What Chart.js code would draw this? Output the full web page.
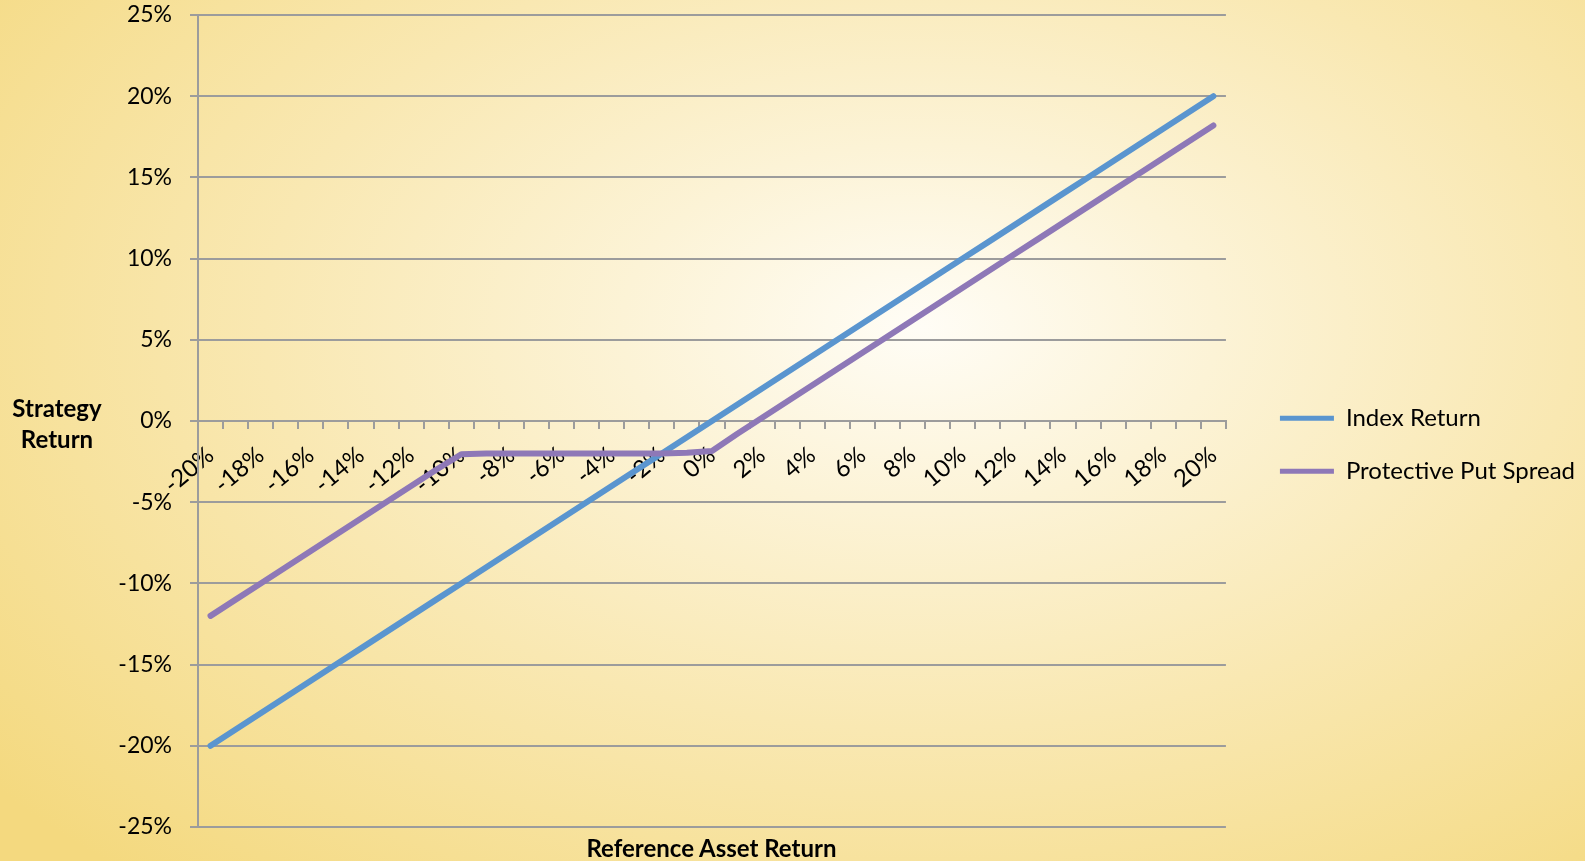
<!DOCTYPE html>
<html>
<head>
<meta charset="utf-8">
<script src="https://cdn.jsdelivr.net/npm/chart.js@4.4.1/dist/chart.umd.min.js"></script>
<style>
  html, body {
    margin: 0;
    padding: 0;
  }
  body {
    width: 1585px;
    height: 861px;
    overflow: hidden;
    background: radial-gradient(ellipse 75% 85% at 58% 38%, #fffdf6 0%, #fcf3d6 25%, #f9e8b2 55%, #f4d97f 100%);
    font-family: Lato, "Open Sans", sans-serif;
  }
  #wrap {
    position: absolute;
    left: 0;
    top: 0;
    width: 1585px;
    height: 861px;
  }
  .axis-title {
    position: absolute;
    font-weight: bold;
    font-size: 24px;
    color: #000;
    text-align: center;
    line-height: 31px;
  }
  #ytitle { left: 0; width: 114px; top: 392px; }
  #xtitle { left: 530px; width: 363px; top: 832px; }
</style>
</head>
<body>
<div id="wrap">
  <canvas id="chart"></canvas>
</div>
<div class="axis-title" id="ytitle">Strategy<br>Return</div>
<div class="axis-title" id="xtitle">Reference Asset Return</div>

<script>
// reference asset return, one category per 1%
const categories = [
  '-20%', '-19%', '-18%', '-17%', '-16%', '-15%', '-14%', '-13%', '-12%', '-11%',
  '-10%', '-9%', '-8%', '-7%', '-6%', '-5%', '-4%', '-3%', '-2%', '-1%',
  '0%', '1%', '2%', '3%', '4%', '5%', '6%', '7%', '8%', '9%',
  '10%', '11%', '12%', '13%', '14%', '15%', '16%', '17%', '18%', '19%', '20%'
];

const indexReturn = [
  -20, -19, -18, -17, -16, -15, -14, -13, -12, -11,
  -10, -9, -8, -7, -6, -5, -4, -3, -2, -1,
  0, 1, 2, 3, 4, 5, 6, 7, 8, 9,
  10, 11, 12, 13, 14, 15, 16, 17, 18, 19, 20
];

const putSpread = [
  -12, -11, -10, -9, -8, -7, -6, -5, -4, -3,
  -2.05, -2, -2, -2, -2, -2, -2, -2, -2, -1.95,
  -1.85, -0.8, 0.2, 1.2, 2.2, 3.2, 4.2, 5.2, 6.2, 7.2,
  8.2, 9.2, 10.2, 11.2, 12.2, 13.2, 14.2, 15.2, 16.2, 17.2, 18.2
];

const yTicks = [-25, -20, -15, -10, -5, 0, 5, 10, 15, 20, 25];

const seriesNames = ['Index Return', 'Protective Put Spread'];
const seriesColors = ['#5a95cf', '#8e78b7'];

const gridColor = '#9c9c9c';
const tickFont = { family: 'Lato', size: 23 };

// the layout caps a right legend at a third of half the width; let it be as wide as its text
const legendRoom = {
  id: 'legendRoom',
  beforeLayout(chart) {
    const legend = chart.legend;
    if (!legend || legend._roomy) return;
    const update = legend.update.bind(legend);
    legend.update = (maxWidth, maxHeight, margins) => update(Math.max(maxWidth, 420), maxHeight, margins);
    legend._roomy = true;
  }
};

const ctx = document.getElementById('chart').getContext('2d');

new Chart(ctx, {
  type: 'line',
  data: {
    labels: categories,
    datasets: [
      {
        label: seriesNames[0],
        data: indexReturn,
        borderColor: seriesColors[0],
        backgroundColor: seriesColors[0],
        borderWidth: 6,
        pointRadius: 0,
        borderCapStyle: 'round',
        borderJoinStyle: 'round',
        order: 1
      },
      {
        label: seriesNames[1],
        data: putSpread,
        borderColor: seriesColors[1],
        backgroundColor: seriesColors[1],
        borderWidth: 6,
        pointRadius: 0,
        borderCapStyle: 'round',
        borderJoinStyle: 'round',
        order: 0
      }
    ]
  },
  plugins: [legendRoom],
  options: {
    responsive: true,
    maintainAspectRatio: false,
    animation: false,
    layout: {
      padding: { top: 0, right: 0, bottom: 34, left: 0 }
    },
    plugins: {
      tooltip: { enabled: false },
      legend: {
        position: 'right',
        title: {
          display: true,
          text: ' ',
          padding: { top: 48, bottom: 0 }
        },
        labels: {
          boxWidth: 54,
          boxHeight: 5,
          padding: 29,
          color: '#000',
          font: { family: 'Lato', size: 24 },
          sort: (a, b) => a.datasetIndex - b.datasetIndex,
          generateLabels: chart =>
            Chart.defaults.plugins.legend.labels.generateLabels(chart)
              .map(item => Object.assign(item, { lineWidth: 0 }))
        }
      }
    },
    scales: {
      x: {
        type: 'category',
        position: { y: 0 },
        offset: true,
        grid: {
          offset: true,
          drawOnChartArea: false,
          tickLength: 7,
          color: gridColor,
          lineWidth: 2
        },
        border: { color: gridColor, width: 2 },
        ticks: {
          autoSkip: false,
          maxRotation: 40,
          minRotation: 40,
          padding: 13,
          color: '#000',
          font: { family: 'Lato', size: 24 },
          callback: function (value, i) {
            return i % 2 === 0 ? this.getLabelForValue(value) : '';
          }
        }
      },
      y: {
        min: -25,
        max: 25,
        afterBuildTicks: scale => {
          scale.ticks = yTicks.map(v => ({ value: v }));
        },
        afterFit: scale => {
          scale.width = 198;
          scale.paddingTop = 15;
          scale.paddingBottom = 34;
        },
        grid: {
          color: gridColor,
          lineWidth: 2,
          tickLength: 8
        },
        border: { color: gridColor, width: 2 },
        ticks: {
          padding: 18,
          color: '#000',
          font: tickFont,
          callback: v => v + '%'
        }
      },
      gap: {
        type: 'linear',
        position: 'right',
        grid: { display: false },
        border: { display: false },
        ticks: { display: false },
        afterFit: scale => {
          scale.width = 25;
        }
      }
    }
  }
});
</script>
</body>
</html>
